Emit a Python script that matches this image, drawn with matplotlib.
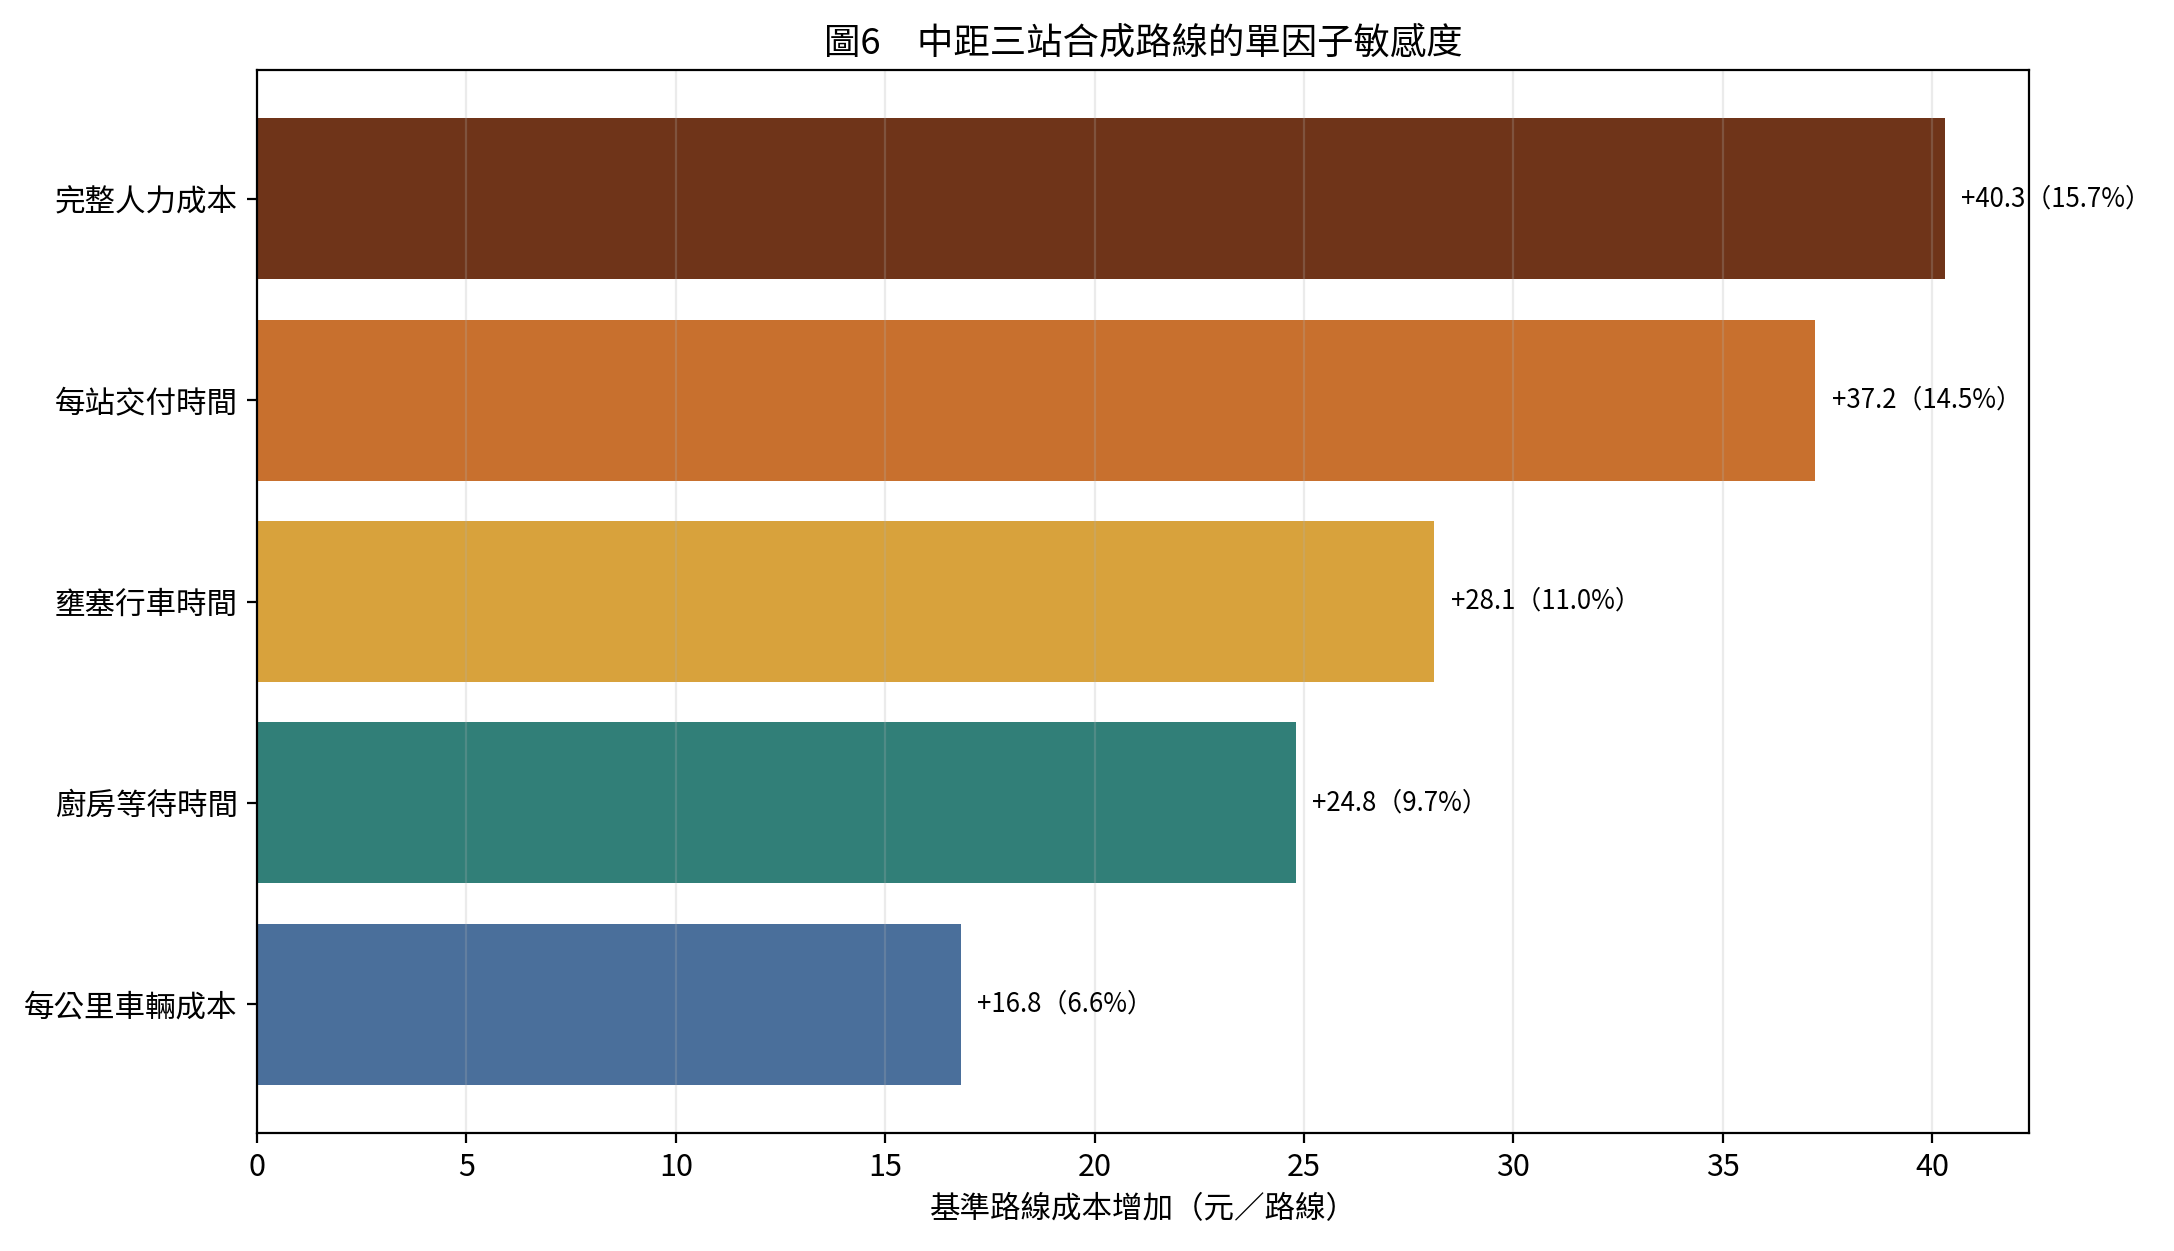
import matplotlib
matplotlib.use("Agg")
import matplotlib.pyplot as plt

plt.rcParams['font.family'] = ['Noto Sans CJK TC', 'DejaVu Sans']

categories = ["每公里車輛成本", "廚房等待時間", "壅塞行車時間", "每站交付時間", "完整人力成本"]
values = [16.8, 24.8, 28.1, 37.2, 40.3]
percents = [6.6, 9.7, 11.0, 14.5, 15.7]
colors = ["#4A6F9B", "#317F78", "#D8A23C", "#C8702E", "#6F3419"]

title = "圖6　中距三站合成路線的單因子敏感度"
xlabel = "基準路線成本增加（元／路線）"

DPI = 200
fig = plt.figure(figsize=(2174 / DPI, 1251 / DPI), dpi=DPI)
ax = fig.add_axes([257 / 2174, 1 - 1133 / 1251, (2029 - 257) / 2174, (1133 - 70) / 1251])

ypos = list(range(len(categories)))
ax.barh(ypos, values, color=colors, height=0.8)
ax.set_yticks(ypos)
ax.set_yticklabels(categories, fontsize=11)
ax.tick_params(axis='x', labelsize=11)

vmax = max(values)
for y, v, p in zip(ypos, values, percents):
    ax.text(v + vmax * 0.01, y, f"+{v:.1f}（{p:.1f}%）", va='center', ha='left', fontsize=9.3)

ax.set_xlim(0, vmax * 1.05)
ax.grid(axis='x', alpha=0.25)
ax.set_title(title, fontsize=13.1, pad=6)
ax.set_xlabel(xlabel, fontsize=11)

fig.savefig("out.png", dpi=DPI)
